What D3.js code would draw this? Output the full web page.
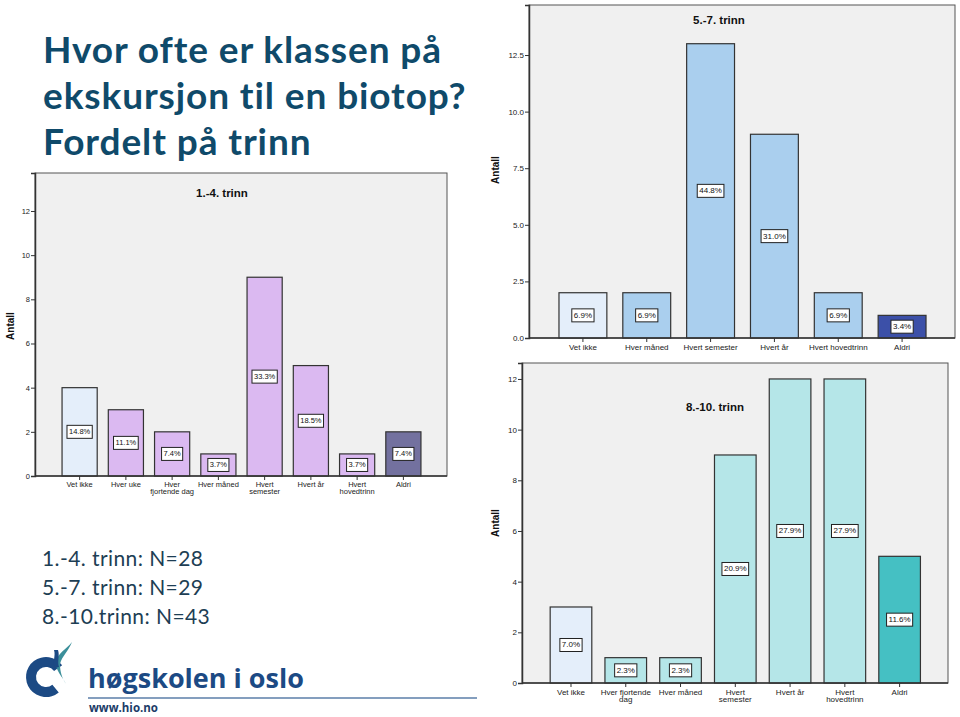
<!DOCTYPE html>
<html>
<head>
<meta charset="utf-8">
<script src="https://cdn.jsdelivr.net/npm/d3@7"></script>
<style>
  html, body { margin: 0; padding: 0; background: #fff; }
  svg { display: block; }
</style>
</head>
<body>
<svg id="chart" width="960" height="717"></svg>
<script>
// ---------- DATA ----------
const titleLines = ["Hvor ofte er klassen på", "ekskursjon til en biotop?", "Fordelt på trinn"];
const nLines = ["1.-4. trinn: N=28", "5.-7. trinn: N=29", "8.-10.trinn: N=43"];

const cats1 = ["Vet ikke", "Hver uke", "Hver\nfjortende dag", "Hver måned", "Hvert\nsemester", "Hvert år", "Hvert\nhovedtrinn", "Aldri"];
const vals1 = [4, 3, 2, 1, 9, 5, 1, 2];
const pct1 = ["14.8%", "11.1%", "7.4%", "3.7%", "33.3%", "18.5%", "3.7%", "7.4%"];
const ticks1 = [0, 2, 4, 6, 8, 10, 12];

const cats2 = ["Vet ikke", "Hver måned", "Hvert semester", "Hvert år", "Hvert hovedtrinn", "Aldri"];
const vals2 = [2, 2, 13, 9, 2, 1];
const pct2 = ["6.9%", "6.9%", "44.8%", "31.0%", "6.9%", "3.4%"];
const ticks2 = [0, 2.5, 5, 7.5, 10, 12.5];

const cats3 = ["Vet ikke", "Hver fjortende\ndag", "Hver måned", "Hvert\nsemester", "Hvert år", "Hvert\nhovedtrinn", "Aldri"];
const vals3 = [3, 1, 1, 9, 12, 12, 5];
const pct3 = ["7.0%", "2.3%", "2.3%", "20.9%", "27.9%", "27.9%", "11.6%"];
const ticks3 = [0, 2, 4, 6, 8, 10, 12];

const svg = d3.select("#chart");
const titleColor = "#0f4a6a";

// ---------- Slide title ----------
const tg = svg.append("g");
titleLines.forEach((t, i) => {
  tg.append("text").attr("x", 43).attr("y", 63 + i * 46)
    .attr("font-family", "Lato, 'Open Sans', sans-serif").attr("font-weight", 700)
    .attr("font-size", 37).attr("letter-spacing", 0.9).attr("fill", titleColor).text(t);
});

// N lines: fit first line to width of the reference (~160px)
const nTexts = nLines.map((t, i) =>
  svg.append("text").attr("x", 42).attr("y", 566 + i * 29)
    .attr("font-family", "Lato, 'Open Sans', sans-serif").attr("font-weight", 400)
    .attr("font-size", 21).attr("fill", "#1d3e54").text(t));
const w0 = nTexts[0].node().getComputedTextLength();
const ls = Math.max(0, (161 - w0) / (nLines[0].length - 1));
nTexts.forEach(t => t.attr("letter-spacing", ls));

// ---------- Chart builder ----------
function drawChart(cfg) {
  const g = svg.append("g");
  const { left, right, top, bottom } = cfg.frame;
  const y = d3.scaleLinear().domain([0, cfg.ymax]).range([bottom, top]);
  const x = d3.scaleBand().domain(cfg.cats).range(cfg.xr)
    .paddingInner(cfg.pad).paddingOuter(cfg.pad / 2);

  g.append("rect").attr("x", left).attr("y", top)
    .attr("width", right - left).attr("height", bottom - top)
    .attr("fill", "#f0f0f0").attr("stroke", "#555").attr("stroke-width", 1);

  g.selectAll("rect.bar").data(cfg.vals).join("rect").attr("class", "bar")
    .attr("x", (d, i) => x(cfg.cats[i]))
    .attr("y", d => y(d))
    .attr("width", x.bandwidth())
    .attr("height", d => y(0) - y(d))
    .attr("fill", (d, i) => cfg.colors[i])
    .attr("stroke", "#333").attr("stroke-width", 1.2);

  const ya = g.append("g").attr("transform", `translate(${left},0)`)
    .call(d3.axisLeft(y).tickValues(cfg.ticks).tickSize(4).tickPadding(1).tickFormat(cfg.fmt));
  ya.select(".domain").attr("stroke", "#333").attr("stroke-width", 1.5);
  ya.selectAll(".tick line").attr("stroke", "#333");
  ya.selectAll(".tick text").attr("font-family", "'Liberation Sans', Arial, sans-serif")
    .attr("font-size", cfg.fs).attr("fill", "#222");

  const xa = g.append("g").attr("transform", `translate(0,${bottom})`)
    .call(d3.axisBottom(x).tickSize(4).tickSizeOuter(0).tickPadding(2));
  xa.select(".domain").attr("d", `M${left},0H${right}`).attr("stroke", "#333").attr("stroke-width", 1.5);
  xa.selectAll(".tick line").attr("stroke", "#333");
  xa.selectAll(".tick text").each(function (d) {
    const t = d3.select(this).text("");
    t.attr("font-family", "'Liberation Sans', Arial, sans-serif").attr("font-size", cfg.fs).attr("fill", "#222");
    d.split("\n").forEach((line, k) => {
      t.append("tspan").attr("x", 0).attr("dy", k === 0 ? "0.71em" : "0.95em").text(line);
    });
  });

  cfg.vals.forEach((v, i) => {
    const cx = x(cfg.cats[i]) + x.bandwidth() / 2;
    const cy = y(v / 2);
    const lg = g.append("g");
    const txt = lg.append("text").attr("x", cx).attr("y", cy)
      .attr("text-anchor", "middle").attr("dominant-baseline", "central")
      .attr("font-family", "'Liberation Sans', Arial, sans-serif")
      .attr("font-size", cfg.fs).attr("fill", "#111").text(cfg.pct[i]);
    const w = txt.node().getComputedTextLength() + 4;
    const h = 13;
    lg.insert("rect", "text").attr("x", cx - w / 2).attr("y", cy - h / 2)
      .attr("width", w).attr("height", h).attr("fill", "#fff")
      .attr("stroke", "#222").attr("stroke-width", 1);
  });

  g.append("text").attr("x", cfg.titlePos[0]).attr("y", cfg.titlePos[1])
    .attr("text-anchor", "middle").attr("font-family", "'Liberation Sans', Arial, sans-serif")
    .attr("font-weight", 700).attr("font-size", 11.5).attr("fill", "#111").text(cfg.title);

  g.append("text").attr("transform", `translate(${cfg.antall[0]},${cfg.antall[1]}) rotate(-90)`)
    .attr("text-anchor", "middle").attr("font-family", "'Liberation Sans', Arial, sans-serif")
    .attr("font-weight", 700).attr("font-size", 10).attr("fill", "#111").text("Antall");
}

const c1Colors = vals1.map((d, i) => i === 0 ? "#e4eefa" : i === vals1.length - 1 ? "#73719f" : "#dbb9f1");
const c2Colors = vals2.map((d, i) => i === 0 ? "#e4eefa" : i === vals2.length - 1 ? "#3c50a8" : "#aacfee");
const c3Colors = vals3.map((d, i) => i === 0 ? "#e4eefa" : i === vals3.length - 1 ? "#45c0c3" : "#b5e6e8");

drawChart({
  cats: cats1, vals: vals1, pct: pct1, ticks: ticks1, fmt: d3.format("d"),
  frame: { left: 35, right: 447, top: 173, bottom: 476 }, ymax: 13.72,
  xr: [56.5, 426.5], pad: 0.24, colors: c1Colors, fs: 7.5,
  title: "1.-4. trinn", titlePos: [222, 197], antall: [14, 326]
});

drawChart({
  cats: cats2, vals: vals2, pct: pct2, ticks: ticks2, fmt: d3.format(".1f"),
  frame: { left: 529, right: 955, top: 5, bottom: 338 }, ymax: 14.71,
  xr: [551, 934], pad: 0.25, colors: c2Colors, fs: 8,
  title: "5.-7. trinn", titlePos: [719, 24], antall: [499, 170]
});

drawChart({
  cats: cats3, vals: vals3, pct: pct3, ticks: ticks3, fmt: d3.format("d"),
  frame: { left: 522, right: 948, top: 363, bottom: 683 }, ymax: 12.63,
  xr: [543.6, 927], pad: 0.24, colors: c3Colors, fs: 8,
  title: "8.-10. trinn", titlePos: [715, 411], antall: [499, 523]
});

// ---------- Logo ----------
const lg = svg.append("g");
const arc = d3.arc().innerRadius(10).outerRadius(20).startAngle(0.78 * Math.PI).endAngle(2.3 * Math.PI);
lg.append("path").attr("transform", "translate(46,677)").attr("d", arc()).attr("fill", "#1c4a84");
lg.append("path").attr("d", "M72,642 C66,650 58,652 56,662 C55,670 62,676 66,684 C62,678 60,672 60,664 C62,656 68,652 72,642 Z")
  .attr("fill", "#3b8f9a");
lg.append("path").attr("d", "M54,650 C56,656 52,662 55,668 L59,667 C57,661 60,656 58,650 Z").attr("fill", "#1c4a84");
lg.append("text").attr("x", 88).attr("y", 688)
  .attr("font-family", "'Open Sans', Lato, sans-serif").attr("font-weight", 700)
  .attr("font-size", 27).attr("fill", "#1c4a84").text("høgskolen i oslo");
lg.append("line").attr("x1", 88).attr("x2", 477).attr("y1", 698).attr("y2", 698)
  .attr("stroke", "#5b7ea8").attr("stroke-width", 1.5);
lg.append("text").attr("x", 89).attr("y", 712)
  .attr("font-family", "'Open Sans', Lato, sans-serif").attr("font-weight", 700)
  .attr("font-size", 11.5).attr("fill", "#1c3c68").text("www.hio.no");
</script>
</body>
</html>
